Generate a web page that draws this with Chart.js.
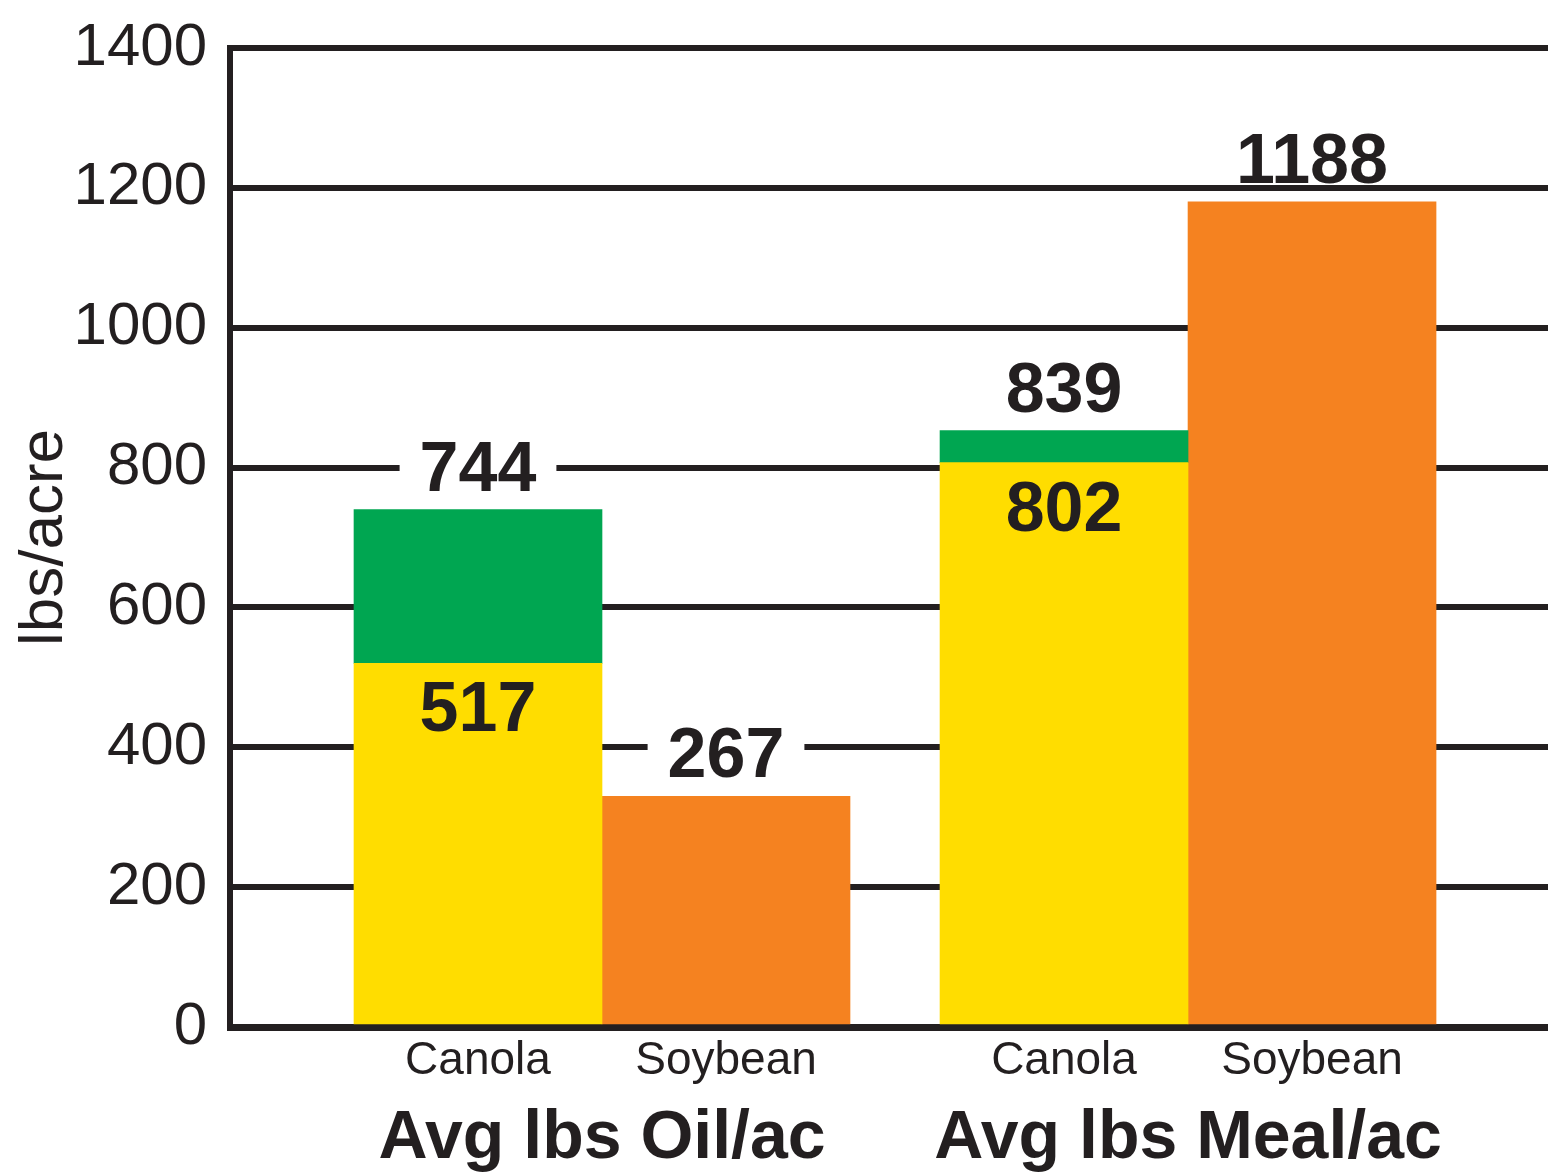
<!DOCTYPE html>
<html>
<head>
<meta charset="utf-8">
<title>Canola vs Soybean: oil and meal per acre</title>
<script src="https://cdn.jsdelivr.net/npm/chart.js@4.4.1/dist/chart.umd.min.js"></script>
<style>
  html, body { margin: 0; padding: 0; background: #fff; }
  canvas { display: block; }
</style>
</head>
<body>
<canvas id="yieldChart" width="1548" height="1173"></canvas>
<script>
// Chart data (bar heights as drawn, numbers as printed)
const groups = ["Avg lbs Oil/ac", "Avg lbs Meal/ac"];
const crops = ["Canola", "Soybean"];
const canolaBase = [520, 807];
const canolaTotal = [740, 853];
const soybean = [330, 1180];
const canolaBaseLabels = ["517", "802"];
const canolaTotalLabels = ["744", "839"];
const soybeanLabels = ["267", "1188"];

// x axis: one unit per bar, the two groups a little further apart
const GROUP_STEP = 2.363;
const X_MIN = -1;
const X_MAX = 4.3145;

const INK = "#231f20";
const FONT = "'Liberation Sans', Arial, Helvetica, sans-serif";

const barX = (g, c) => g * GROUP_STEP + c;
const barTicks = groups.flatMap((_, g) => crops.map((_, c) => barX(g, c)));
const groupTicks = groups.map((_, g) => barX(g, 0.5));

// Numbers printed above / inside the bars
const valueLabels = {
  id: "valueLabels",
  afterDatasetsDraw(chart) {
    const ctx = chart.ctx;
    const size = 70;
    const cap = size * 0.716;
    ctx.save();
    ctx.font = `bold ${size}px ${FONT}`;
    ctx.textAlign = "center";
    ctx.textBaseline = "alphabetic";

    function put(text, x, cy, box) {
      if (box) {
        // white patch so the grid line breaks around the number
        const w = ctx.measureText(text).width + 40;
        ctx.fillStyle = "#fff";
        ctx.fillRect(x - w / 2, cy - 26, w, 52);
      }
      ctx.fillStyle = INK;
      ctx.fillText(text, x, cy + cap / 2);
    }

    const base = chart.getDatasetMeta(0).data;
    const top = chart.getDatasetMeta(1).data;
    const soy = chart.getDatasetMeta(2).data;
    groups.forEach((_, g) => {
      put(canolaTotalLabels[g], top[g].x, top[g].y - 44, true);
      put(canolaBaseLabels[g], base[g].x, base[g].y + 43, false);
      put(soybeanLabels[g], soy[g].x, soy[g].y - 44, true);
    });
    ctx.restore();
  }
};

new Chart(document.getElementById("yieldChart"), {
  type: "bar",
  data: {
    datasets: [
      {
        label: "Canola",
        data: canolaBase.map((v, g) => ({ x: barX(g, 0), y: v })),
        backgroundColor: "#ffdd00"
      },
      {
        label: "Canola (top)",
        data: canolaTotal.map((v, g) => ({ x: barX(g, 0), y: [canolaBase[g], v] })),
        backgroundColor: "#00a651"
      },
      {
        label: "Soybean",
        data: soybean.map((v, g) => ({ x: barX(g, 1), y: v })),
        backgroundColor: "#f58220"
      }
    ]
  },
  options: {
    responsive: false,
    devicePixelRatio: 1,
    animation: false,
    layout: { padding: { top: 48, right: 0, bottom: 0, left: 0 } },
    datasets: {
      bar: { grouped: false, barPercentage: 1, categoryPercentage: 1, borderWidth: 0 }
    },
    plugins: {
      legend: { display: false },
      tooltip: { enabled: false }
    },
    scales: {
      x: {
        type: "linear",
        position: "bottom",
        min: X_MIN,
        max: X_MAX,
        bounds: "data",
        offset: false,
        z: 1,
        grid: { display: false, drawTicks: false, offset: false },
        border: { display: true, color: INK, width: 7 },
        afterBuildTicks: s => { s.ticks = barTicks.map(v => ({ value: v })); },
        afterFit: s => { s.height = 70; },
        ticks: {
          autoSkip: false,
          maxRotation: 0,
          padding: 7,
          color: INK,
          font: { family: FONT, size: 46 },
          callback: (v, i) => crops[i % crops.length]
        }
      },
      x2: {
        type: "linear",
        position: "bottom",
        min: X_MIN,
        max: X_MAX,
        bounds: "data",
        offset: false,
        grid: { display: false, drawTicks: false, offset: false },
        border: { display: false },
        afterBuildTicks: s => { s.ticks = groupTicks.map(v => ({ value: v })); },
        afterFit: s => { s.height = 76; },
        ticks: {
          autoSkip: false,
          maxRotation: 0,
          padding: 1,
          color: INK,
          font: { family: FONT, size: 68, weight: "bold" },
          callback: (v, i) => groups[i]
        }
      },
      y: {
        min: 0,
        max: 1400,
        grid: { color: INK, lineWidth: 6, drawTicks: false },
        border: { color: INK, width: 6 },
        afterFit: s => {
          s.width = 230;
          s.paddingTop = 0;
          s.paddingBottom = 0;
        },
        ticks: {
          stepSize: 200,
          padding: 23,
          color: INK,
          font: { family: FONT, size: 60 },
          callback: v => String(v)
        },
        title: {
          display: true,
          text: "lbs/acre",
          color: INK,
          font: { family: FONT, size: 62 },
          padding: { top: 8, bottom: 0 }
        }
      }
    }
  },
  plugins: [valueLabels]
});
</script>
</body>
</html>
